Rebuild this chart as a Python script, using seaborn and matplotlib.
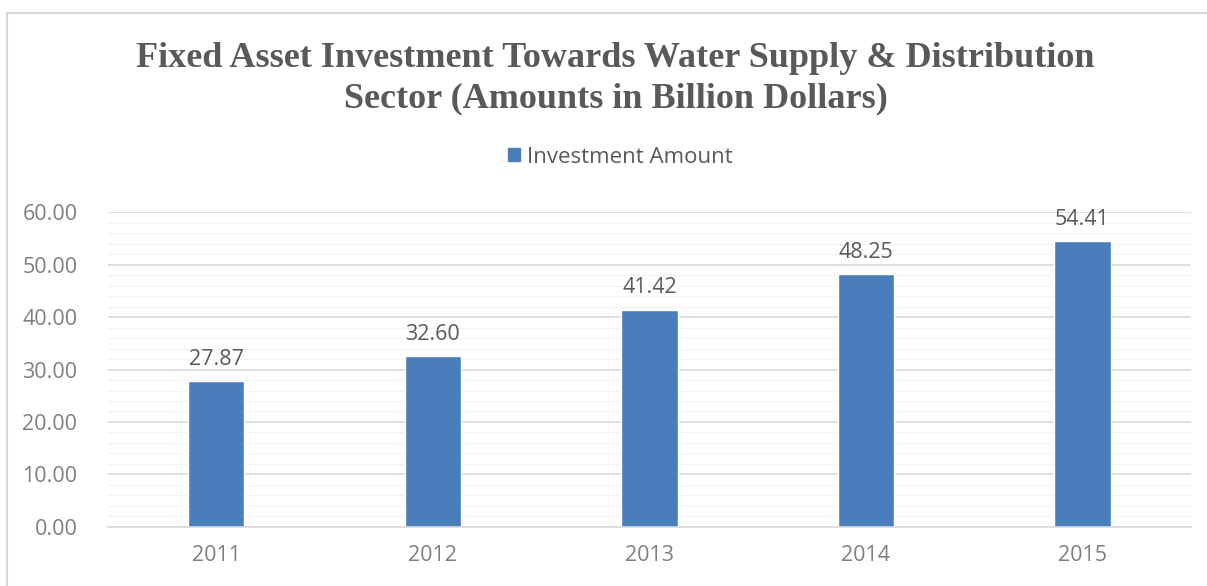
import pandas as pd
import numpy as np
import matplotlib.pyplot as plt
import matplotlib.patches as mpatches
from matplotlib.ticker import MultipleLocator, FixedLocator
import seaborn as sns

years = ['2011', '2012', '2013', '2014', '2015']
investment = [27.87, 32.60, 41.42, 48.25, 54.41]
series_name = 'Investment Amount'
title = 'Fixed Asset Investment Towards Water Supply & Distribution\nSector (Amounts in Billion Dollars)'

df = pd.DataFrame({'Year': years, 'Amount': investment})

sns.set_style("white")
plt.rcParams['font.family'] = ['Open Sans', 'DejaVu Sans']

bar_color = '#4A7EBB'
text_gray = '#595959'
tick_gray = '#7F7F7F'

fig = plt.figure(figsize=(12.07, 5.86), dpi=100)
ax = fig.add_axes([0.0895, 0.1007, 0.897, 0.5375])

sns.barplot(data=df, x='Year', y='Amount', color=bar_color, width=0.26,
            saturation=1, ax=ax, label=series_name)

ax.set_ylim(0, 60)
ax.set_xlim(-0.5, len(years) - 0.5)
ax.yaxis.set_major_locator(MultipleLocator(10))
ax.yaxis.set_minor_locator(MultipleLocator(2))
ax.yaxis.set_major_formatter(lambda v, p: f'{v:.2f}')
ax.grid(axis='y', which='major', color='#D9D9D9', linewidth=1.2)
ax.grid(axis='y', which='minor', color='#F2F2F2', linewidth=0.8)
ax.set_axisbelow(True)

for s in ['top', 'right', 'left']:
    ax.spines[s].set_visible(False)
ax.spines['bottom'].set_color('#D9D9D9')
ax.spines['bottom'].set_linewidth(1.2)

ax.set_xlabel('')
ax.set_ylabel('')
ax.tick_params(axis='y', which='both', length=0, labelsize=15.5, labelcolor=tick_gray, pad=22)
ax.tick_params(axis='x', which='major', length=0, labelsize=15.5, labelcolor=tick_gray, pad=13)
ax.xaxis.set_minor_locator(FixedLocator(np.arange(-0.5, len(years), 1.0)))
ax.tick_params(axis='x', which='minor', length=6, color='#D9D9D9', width=1.2)

for i, v in enumerate(investment):
    ax.annotate(f'{v:.2f}', (i, v), xytext=(0, 8), textcoords='offset points',
                ha='center', va='bottom', fontsize=15.5, color=text_gray)

fig.text(0.510, 0.866, title, ha='center', va='center', fontsize=26,
         fontweight='bold', color=text_gray, family=['Liberation Serif', 'DejaVu Serif'],
         linespacing=1.3)

handle = mpatches.Patch(color=bar_color)
fig.legend([handle], [series_name], loc='center', bbox_to_anchor=(0.514, 0.732),
           frameon=False, fontsize=16, handlelength=0.55, handleheight=0.55,
           handletextpad=0.3, labelcolor=text_gray)
if ax.get_legend() is not None:
    ax.get_legend().remove()

# light border around the chart area
fig.patches.append(mpatches.Rectangle((0.006, -0.02), 1.1, 0.998, transform=fig.transFigure,
                                      fill=False, edgecolor='#D9D9D9', linewidth=1.5))

fig.savefig('out.png', dpi=100)
